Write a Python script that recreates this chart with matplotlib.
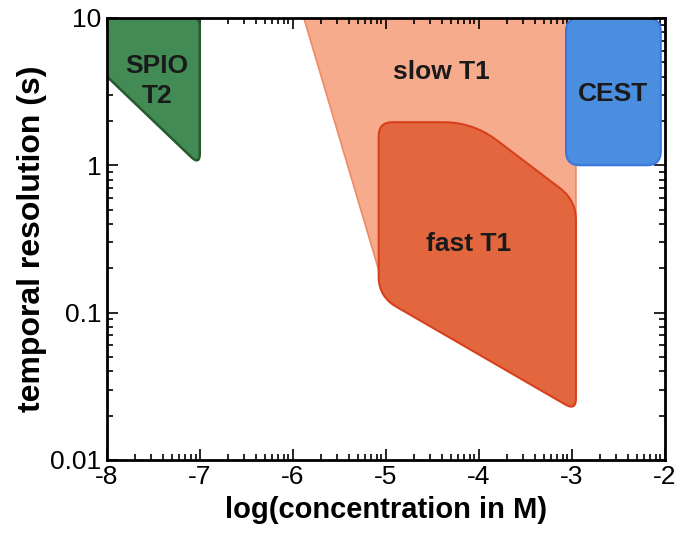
import numpy as np
import matplotlib.pyplot as plt
from matplotlib.ticker import FixedLocator, LogLocator, NullFormatter

plt.rcParams['font.family'] = ['Liberation Sans', 'DejaVu Sans']

# regions: (log concentration, temporal resolution) corners, corner radius in px
spio_x = [-8.3, -7.0, -7.0, -8.05]
spio_y = [15.0, 10.0, 1.0, 4.3]
spio_r = [0, 8, 12, 0]

slow_x = [-5.9, -2.953, -2.953, -5.07]
slow_y = [11.0, 11.0, 0.3, 0.19]
slow_r = [0, 0, 0, 0]

fast_x = [-5.075, -4.06, -2.953, -2.953, -5.075]
fast_y = [1.96, 1.96, 0.578, 0.0216, 0.1285]
fast_r = [14, 30, 20, 12, 20]

cest_x = [-3.06, -2.04, -2.04, -3.06]
cest_y = [10.0, 10.0, 1.0, 1.0]
cest_r = [14, 14, 14, 14]

labels = ['SPIO\nT2', 'slow T1', 'fast T1', 'CEST']
label_x = [-7.46, -4.4, -4.11, -2.55]
label_y = [3.75, 4.3, 0.29, 3.05]

xmin, xmax = -8, -2
ymin, ymax = 0.01, 10
W, H = 558.0, 442.0  # axes size in px


def rounded(xs, ys, rs, n=10):
    # round corners in pixel space so radii look even on the log axis
    u = (np.array(xs) - xmin) / (xmax - xmin) * W
    v = (np.log10(ys) - np.log10(ymin)) / (np.log10(ymax) - np.log10(ymin)) * H
    pts = np.column_stack([u, v])
    m = len(pts)
    out = []
    for i in range(m):
        p = pts[i]
        a = pts[i - 1]
        b = pts[(i + 1) % m]
        r = rs[i]
        if r == 0:
            out.append(p)
            continue
        da = a - p
        db = b - p
        la = np.hypot(*da)
        lb = np.hypot(*db)
        ra = min(r, la / 2)
        rb = min(r, lb / 2)
        p0 = p + da / la * ra
        p1 = p + db / lb * rb
        t = np.linspace(0, 1, n)[:, None]
        curve = (1 - t) ** 2 * p0 + 2 * (1 - t) * t * p + t ** 2 * p1
        out.extend(curve)
    out = np.array(out)
    x = xmin + out[:, 0] / W * (xmax - xmin)
    y = 10 ** (np.log10(ymin) + out[:, 1] / H * (np.log10(ymax) - np.log10(ymin)))
    return x, y


fig = plt.figure(figsize=(6.76, 5.43), dpi=100)
ax = fig.add_axes([0.158, 0.153, 0.825, 0.814])
ax.set_yscale('log')
ax.set_xlim(xmin, xmax)
ax.set_ylim(ymin, ymax)

x, y = rounded(slow_x, slow_y, slow_r)
ax.fill(x, y, facecolor='#f7ab8d', edgecolor='#ef8a66', lw=1.2, zorder=1)
x, y = rounded(fast_x, fast_y, fast_r)
ax.fill(x, y, facecolor='#e2673f', edgecolor='#d8401c', lw=1.5, zorder=2)
x, y = rounded(cest_x, cest_y, cest_r)
ax.fill(x, y, facecolor='#4b8ee0', edgecolor='#3878dc', lw=1.5, zorder=3)
x, y = rounded(spio_x, spio_y, spio_r)
ax.fill(x, y, facecolor='#428b55', edgecolor='#255a2c', lw=1.8, zorder=3)

for t, lx, ly in zip(labels, label_x, label_y):
    ax.text(lx, ly, t, ha='center', va='center', fontsize=19, fontweight='bold',
            color='#1a1a1a', linespacing=1.3, zorder=5)

ax.set_xticks(np.arange(-8, -1, 1))
ax.set_xticklabels(['-8', '-7', '-6', '-5', '-4', '-3', '-2'])
minor_x = [n + np.log10(k) for n in range(-8, -2) for k in range(2, 10)]
ax.xaxis.set_minor_locator(FixedLocator(minor_x))
ax.set_yticks([0.01, 0.1, 1, 10])
ax.set_yticklabels(['0.01', '0.1', '1', '10'])
ax.yaxis.set_minor_locator(LogLocator(base=10, subs=np.arange(2, 10)))
ax.yaxis.set_minor_formatter(NullFormatter())

ax.tick_params(which='both', direction='in', top=True, right=True, labelsize=19,
               width=1.2, pad=4)
ax.tick_params(which='major', length=8)
ax.tick_params(which='minor', length=4)
for s in ax.spines.values():
    s.set_linewidth(2)
    s.set_zorder(6)

ax.set_xlabel('log(concentration in M)', fontsize=21, fontweight='bold', labelpad=5)
ax.set_ylabel('temporal resolution (s)', fontsize=23, fontweight='bold', labelpad=2)

fig.savefig('out.png', dpi=100)
